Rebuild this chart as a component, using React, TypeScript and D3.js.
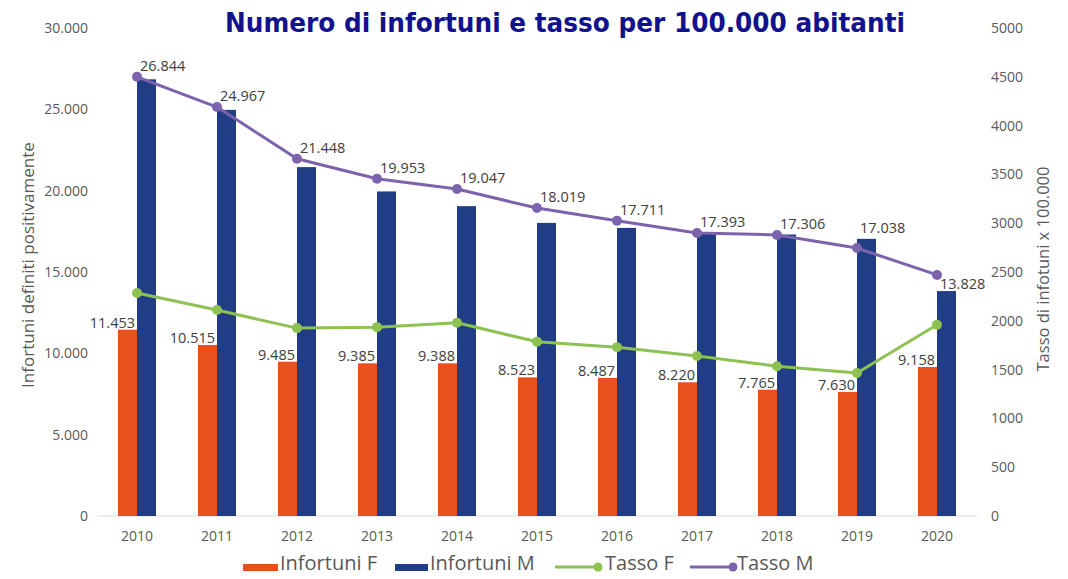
import React from "react";
import * as d3 from "d3";

const years = ["2010", "2011", "2012", "2013", "2014", "2015", "2016", "2017", "2018", "2019", "2020"];
const infortuniF = [11453, 10515, 9485, 9385, 9388, 8523, 8487, 8220, 7765, 7630, 9158];
const infortuniM = [26844, 24967, 21448, 19953, 19047, 18019, 17711, 17393, 17306, 17038, 13828];
const tassoF = [2285, 2110, 1925, 1935, 1980, 1785, 1730, 1640, 1535, 1465, 1960];
const tassoM = [4500, 4190, 3660, 3455, 3350, 3155, 3025, 2900, 2880, 2745, 2470];
const leftTicks = [0, 5000, 10000, 15000, 20000, 25000, 30000];
const rightTicks = [0, 500, 1000, 1500, 2000, 2500, 3000, 3500, 4000, 4500, 5000];

const TITLE = "Numero di infortuni e tasso per 100.000 abitanti";
const LEFT_TITLE = "Infortuni definiti positivamente";
const RIGHT_TITLE = "Tasso di infotuni x 100.000";

const W = 1068;
const H = 579;
const COL_F = "#E8501E";
const COL_M = "#203D85";
const COL_TF = "#8DC253";
const COL_TM = "#7C63AD";
const TXT = "#595959";
const LBL = "#404040";
const FONT = "'Open Sans', 'Noto Sans', sans-serif";

const fmt = (v: number) => d3.format(",")(v).replace(/,/g, ".");

export default function App() {
  const x = d3.scaleBand<string>().domain(years).range([97, 977]).paddingInner(0.525).paddingOuter(0.2625);
  const xs = d3.scaleBand<string>().domain(["F", "M"]).range([0, x.bandwidth()]);
  const yL = d3.scaleLinear().domain([0, 30000]).range([516, 28]);
  const yR = d3.scaleLinear().domain([0, 5000]).range([516, 28]);
  const cx = (y: string) => (x(y) as number) + x.bandwidth() / 2;

  const lineF = d3.line<number>().x((_, i) => cx(years[i])).y((d) => yR(d));
  const lineM = d3.line<number>().x((_, i) => cx(years[i])).y((d) => yR(d));

  const legend = [
    { type: "bar", color: COL_F, label: "Infortuni F", x0: 243, x1: 278, tx: 280 },
    { type: "bar", color: COL_M, label: "Infortuni M", x0: 395, x1: 428, tx: 430 },
    { type: "line", color: COL_TF, label: "Tasso F", x0: 555, x1: 598, tx: 605 },
    { type: "line", color: COL_TM, label: "Tasso M", x0: 690, x1: 733, tx: 737 },
  ];

  return (
    <div style={{ position: "absolute", left: 0, top: 0 }}>
      <svg width={W} height={H} style={{ display: "block", background: "#fff" }} fontFamily={FONT}>
        <text x={565} y={32} textAnchor="middle" fontFamily="'DejaVu Sans', Verdana, sans-serif" fontWeight="bold" fontSize={26} fill="#12128E" textLength={680} lengthAdjust="spacingAndGlyphs">
          {TITLE}
        </text>

        {/* left axis labels */}
        {leftTicks.map((t) => (
          <text key={"l" + t} x={88} y={yL(t)} dy="0.35em" textAnchor="end" fontSize={14} fill={TXT}>
            {fmt(t)}
          </text>
        ))}
        {/* right axis labels */}
        {rightTicks.map((t) => (
          <text key={"r" + t} x={991} y={yR(t)} dy="0.35em" textAnchor="start" fontSize={14} fill={TXT}>
            {t}
          </text>
        ))}

        <text transform={`translate(34,265) rotate(-90)`} textAnchor="middle" fontSize={17} fill={TXT}>
          {LEFT_TITLE}
        </text>
        <text transform={`translate(1049,269) rotate(-90)`} textAnchor="middle" fontSize={16.5} fill={TXT}>
          {RIGHT_TITLE}
        </text>

        {/* baseline */}
        <line x1={97} x2={977} y1={yL(0)} y2={yL(0)} stroke="#D9D9D9" strokeWidth={1} />

        {/* bars */}
        {years.map((y, i) => (
          <g key={"b" + y}>
            <rect x={(x(y) as number) + (xs("F") as number)} y={yL(infortuniF[i])} width={xs.bandwidth()} height={yL(0) - yL(infortuniF[i])} fill={COL_F} />
            <rect x={(x(y) as number) + (xs("M") as number)} y={yL(infortuniM[i])} width={xs.bandwidth()} height={yL(0) - yL(infortuniM[i])} fill={COL_M} />
          </g>
        ))}

        {/* x labels */}
        {years.map((y) => (
          <text key={"x" + y} x={cx(y)} y={536} dy="0.35em" textAnchor="middle" fontSize={14} fill={TXT}>
            {y}
          </text>
        ))}

        {/* lines */}
        <path d={lineF(tassoF) as string} fill="none" stroke={COL_TF} strokeWidth={3} strokeLinejoin="round" />
        <path d={lineM(tassoM) as string} fill="none" stroke={COL_TM} strokeWidth={3} strokeLinejoin="round" />
        {years.map((y, i) => (
          <g key={"m" + y}>
            <circle cx={cx(y)} cy={yR(tassoF[i])} r={5} fill={COL_TF} />
            <circle cx={cx(y)} cy={yR(tassoM[i])} r={5} fill={COL_TM} />
          </g>
        ))}

        {/* data labels F */}
        {years.map((y, i) => (
          <text key={"lf" + y} x={cx(y) - 2} y={yL(infortuniF[i]) - 7} dy="0.35em" textAnchor="end" fontSize={14.5} fill={LBL}>
            {fmt(infortuniF[i])}
          </text>
        ))}
        {/* data labels M */}
        {years.map((y, i) => {
          const py = yR(tassoM[i]);
          const by = yL(infortuniM[i]);
          const ly = i === years.length - 1 ? py + 9 : Math.min(py, by) - 11;
          return (
            <text key={"lm" + y} x={cx(y) + 3} y={ly} dy="0.35em" textAnchor="start" fontSize={14.5} fill={LBL}>
              {fmt(infortuniM[i])}
            </text>
          );
        })}

        {/* legend */}
        {legend.map((l) => (
          <g key={l.label}>
            {l.type === "bar" ? (
              <rect x={l.x0} y={564} width={l.x1 - l.x0} height={7} fill={l.color} />
            ) : (
              <g>
                <line x1={l.x0} x2={l.x1} y1={567} y2={567} stroke={l.color} strokeWidth={3} />
                <circle cx={l.x1} cy={567} r={4.5} fill={l.color} />
              </g>
            )}
            <text x={l.tx} y={570} fontSize={20} fill={TXT}>
              {l.label}
            </text>
          </g>
        ))}
      </svg>
    </div>
  );
}
